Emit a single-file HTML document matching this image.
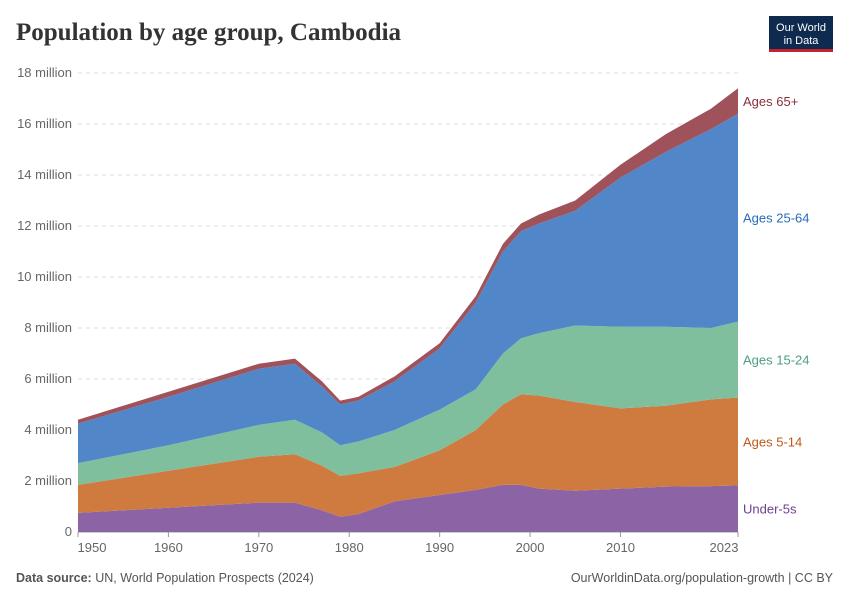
<!DOCTYPE html>
<html><head><meta charset="utf-8"><style>
body{margin:0;background:#fff;font-family:"Liberation Sans",sans-serif}
svg{display:block}
</style></head><body>
<svg id="c" width="850" height="600" xmlns="http://www.w3.org/2000/svg">
<text x="16" y="40" font-family="Liberation Serif,serif" font-size="25" font-weight="bold" fill="#333">Population by age group, Cambodia</text>
<g><rect x="769" y="16" width="64" height="36" fill="#0f2a4f"/><rect x="769" y="49" width="64" height="3" fill="#c4222f"/>
<text x="801" y="31" text-anchor="middle" font-size="11" fill="#fff">Our World</text><text x="801" y="44" text-anchor="middle" font-size="11" fill="#fff">in Data</text></g>
<g id="grid"></g><g id="areas"></g><g id="labels"></g>
<text x="16" y="582" font-size="12.5" fill="#555"><tspan font-weight="bold">Data source:</tspan> UN, World Population Prospects (2024)</text>
<text x="833" y="582" text-anchor="end" font-size="12.5" fill="#555">OurWorldinData.org/population-growth | CC BY</text>
</svg>
<script>
const years=[1950,1960,1970,1974,1977,1979,1981,1985,1990,1994,1997,1999,2001,2005,2010,2015,2020,2023];
const under5=[.75,.95,1.15,1.15,.85,.6,.7,1.2,1.45,1.65,1.85,1.85,1.7,1.62,1.7,1.78,1.8,1.83];
const ages5to14=[1.1,1.45,1.8,1.9,1.75,1.6,1.6,1.35,1.75,2.35,3.15,3.55,3.65,3.48,3.15,3.17,3.4,3.44];
const ages15to24=[.85,1.0,1.25,1.35,1.3,1.2,1.25,1.45,1.6,1.6,2.0,2.2,2.45,3.0,3.2,3.1,2.8,2.98];
const ages25to64=[1.55,1.9,2.2,2.2,1.8,1.6,1.6,1.9,2.4,3.4,4.0,4.2,4.3,4.5,5.85,6.85,7.8,8.15];
const ages65plus=[.15,.2,.2,.2,.2,.15,.15,.2,.2,.25,.3,.3,.35,.4,.5,.7,.8,1.0];
const yTicks=[0,2,4,6,8,10,12,14,16,18];
const xTicks=[1950,1960,1970,1980,1990,2000,2010,2023];
const NS="http://www.w3.org/2000/svg";
const x=y=>78+(y-1950)*(738-78)/73;
const yv=v=>532-v*(532-73)/18;
function mk(t,a,p){const e=document.createElementNS(NS,t);for(const k in a)e.setAttribute(k,a[k]);p.appendChild(e);return e;}
const grid=document.getElementById('grid');
yTicks.forEach(t=>{
 const l=mk('line',{x1:78,x2:738,y1:yv(t),y2:yv(t),stroke:t?'#ddd':'#999','stroke-dasharray':t?'4,4':''},grid);
 
 
 const tx=mk('text',{x:72,y:yv(t)+4,'text-anchor':'end','font-size':13,fill:'#666'},grid);
 tx.textContent=t?t+' million':'0';
 
 
});
xTicks.forEach(t=>{
 const tx=mk('text',{x:t===1950?x(t)+14:t===2023?x(t)-14:x(t),y:552,'text-anchor':'middle','font-size':13,fill:'#666'},grid);
 tx.textContent=t;
 
 
 const tk=mk('line',{x1:x(t),x2:x(t),y1:532,y2:537,stroke:'#999'},grid);
 
 
});
const series=[[under5,'#8c64a6','#6d3e91','Under-5s'],[ages5to14,'#cf7a3e','#c05917','Ages 5-14'],[ages15to24,'#7fbf9e','#4e9e7e','Ages 15-24'],[ages25to64,'#5186c9','#286bbb','Ages 25-64'],[ages65plus,'#a0525a','#883039','Ages 65+']];
let base=years.map(()=>0);
const ag=document.getElementById('areas'),lg=document.getElementById('labels');
series.forEach(([vals,col,lc,name])=>{
 const top=base.map((b,i)=>b+vals[i]);
 let d='M'+years.map((y,i)=>x(y)+','+yv(top[i])).join('L');
 for(let i=years.length-1;i>=0;i--)d+='L'+x(years[i])+','+yv(base[i]);
 const p=mk('path',{d:d+'Z',fill:col},ag);
 
 
 const n=years.length-1;
 const t=mk('text',{x:743,y:yv((base[n]+top[n])/2)+5,'font-size':13,fill:lc},lg);
 t.textContent=name;
 
 
 base=top;
});
</script>
</body></html>
